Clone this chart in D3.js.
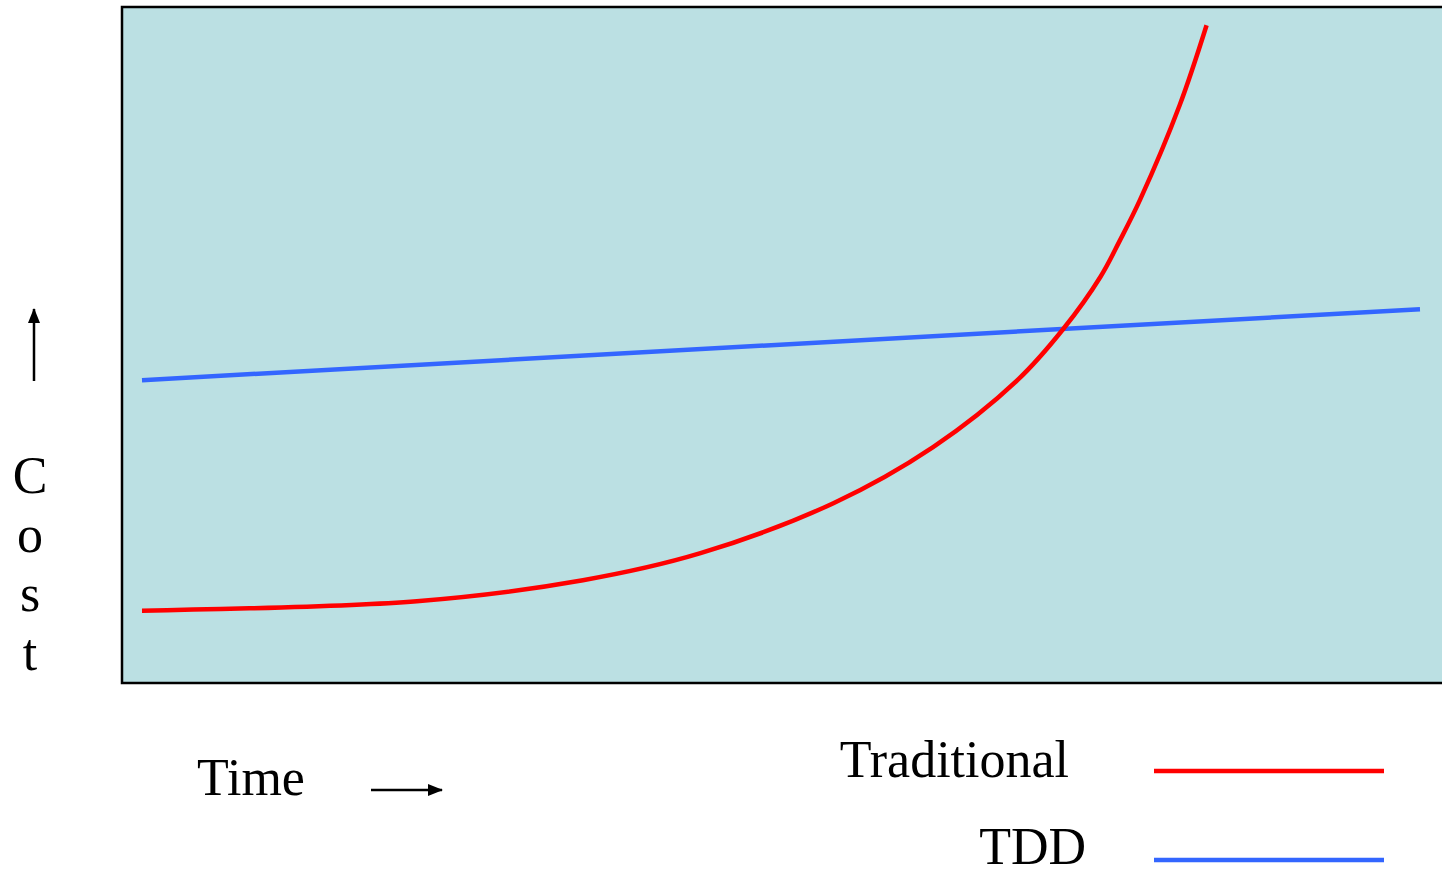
<!DOCTYPE html>
<html>
<head>
<meta charset="utf-8">
<script src="https://cdn.jsdelivr.net/npm/d3@7"></script>
<style>
  html, body { margin: 0; padding: 0; background: #ffffff; }
  svg { display: block; }
  text { font-family: "Liberation Serif", "Times New Roman", serif; fill: #000; }
</style>
</head>
<body>
<svg id="chart" width="1442" height="870"></svg>
<script>
// ---- data (time vs. cost, arbitrary units) ----
const traditionalTime = [0, 21.5, 34.5, 43.7, 54.1, 61.9, 68.5, 72.1, 75.0, 76.5, 78.1, 81.2, 83.3];
const traditionalCost = [10.7, 12.1, 15.2, 19.2, 26.6, 34.9, 44.8, 52.4, 60.1, 65.4, 71.5, 85.5, 97.3];
const tddTime = [0, 100];
const tddCost = [44.8, 55.3];
const seriesNames = ["Traditional", "TDD"];
const seriesColors = ["#ff0000", "#3366ff"];
const xLabel = "Time";
const yLabel = ["C", "o", "s", "t"];

const svg = d3.select("#chart");

// scales
const x = d3.scaleLinear().domain([0, 100]).range([142, 1420]);
const y = d3.scaleLinear().domain([0, 100]).range([683, 7]);

// plot area
svg.append("rect")
  .attr("x", 122).attr("y", 7)
  .attr("width", 1340).attr("height", 676)
  .attr("fill", "#bbe0e3")
  .attr("stroke", "#000").attr("stroke-width", 2.5);

const line = d3.line()
  .x(d => x(d[0]))
  .y(d => y(d[1]))
  .curve(d3.curveCatmullRom.alpha(0.5));

const tddData = tddTime.map((t, i) => [t, tddCost[i]]);
const tradData = traditionalTime.map((t, i) => [t, traditionalCost[i]]);

svg.append("path")
  .datum(tddData)
  .attr("d", line)
  .attr("fill", "none")
  .attr("stroke", seriesColors[1])
  .attr("stroke-width", 4.5);

svg.append("path")
  .datum(tradData)
  .attr("d", line)
  .attr("fill", "none")
  .attr("stroke", seriesColors[0])
  .attr("stroke-width", 4.5);

// arrow marker
const defs = svg.append("defs");
defs.append("marker")
  .attr("id", "arrow")
  .attr("viewBox", "0 0 15 12")
  .attr("refX", 14).attr("refY", 6)
  .attr("markerUnits", "userSpaceOnUse")
  .attr("markerWidth", 15).attr("markerHeight", 12)
  .attr("orient", "auto")
  .append("path")
  .attr("d", "M0,0 L15,6 L0,12 Z")
  .attr("fill", "#000");

// y label (vertical letters) + up arrow
svg.append("line")
  .attr("x1", 34).attr("y1", 381).attr("x2", 34).attr("y2", 309)
  .attr("stroke", "#000").attr("stroke-width", 2.5)
  .attr("marker-end", "url(#arrow)");

svg.selectAll("text.ylab")
  .data(yLabel)
  .join("text")
  .attr("class", "ylab")
  .attr("x", 30)
  .attr("y", (d, i) => 493 + i * 59)
  .attr("text-anchor", "middle")
  .attr("font-size", 52)
  .text(d => d);

// x label + right arrow
svg.append("text")
  .attr("x", 197).attr("y", 795)
  .attr("font-size", 52)
  .text(xLabel);

svg.append("line")
  .attr("x1", 371).attr("y1", 790).attr("x2", 442).attr("y2", 790)
  .attr("stroke", "#000").attr("stroke-width", 2.5)
  .attr("marker-end", "url(#arrow)");

// legend
const legendY = [771, 860];
const legendTextRight = [1069, 1086];
const legendBase = [777, 864];
seriesNames.forEach((name, i) => {
  svg.append("text")
    .attr("x", legendTextRight[i]).attr("y", legendBase[i])
    .attr("text-anchor", "end")
    .attr("font-size", 52)
    .text(name);
  svg.append("line")
    .attr("x1", 1154).attr("x2", 1384)
    .attr("y1", legendY[i]).attr("y2", legendY[i])
    .attr("stroke", seriesColors[i])
    .attr("stroke-width", 4.5);
});
</script>
</body>
</html>
